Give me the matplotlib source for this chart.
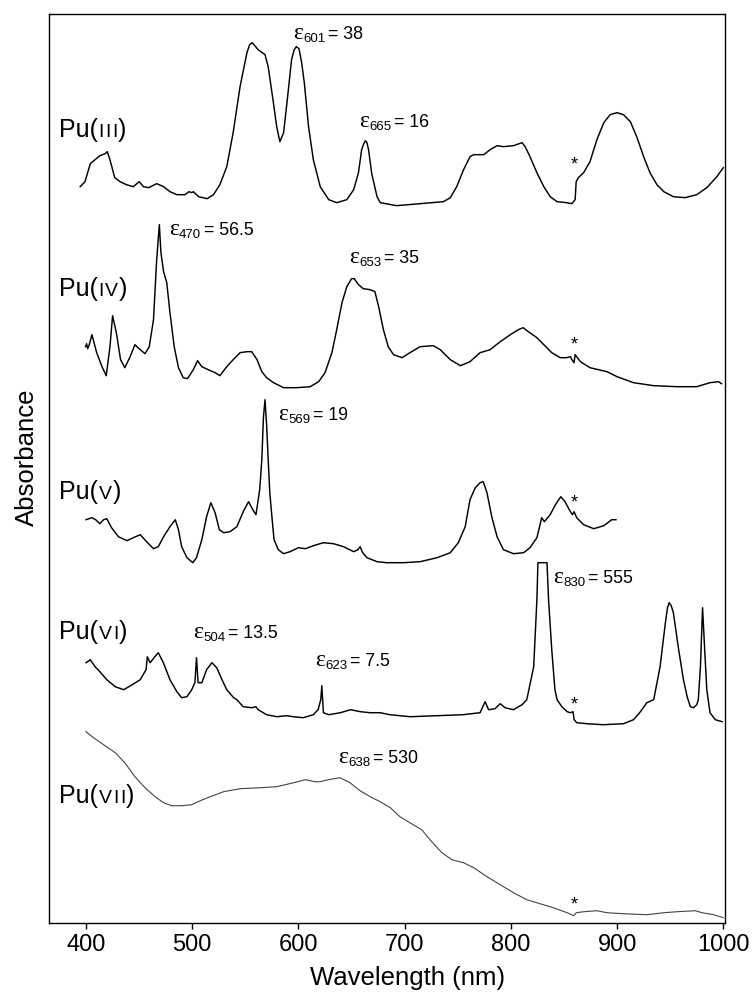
import matplotlib
matplotlib.use("Agg")
import matplotlib.pyplot as plt

plt.rcParams["font.family"] = ["Liberation Sans", "DejaVu Sans"]

# ---------------------------------------------------------------------------
# Spectra (stacked, arbitrary absorbance units)
# ---------------------------------------------------------------------------
pu3_wl = [394.5, 399, 404, 408.5, 413, 418, 420, 422.5, 427, 432,
          438, 444.5, 450, 454, 459, 466.5, 473, 479, 485.5, 493,
          497, 499.5, 501, 506, 514, 520, 526, 532.5, 538.5, 545,
          551.5, 554, 556.5, 562, 568.5, 571.5, 576, 579.5, 582.5, 586,
          589.5, 593.5, 596, 598, 600.5, 603, 605.5, 609.5, 614, 620.5,
          628.5, 636, 645.5, 652, 656.5, 659.5, 661.5, 663, 664.5, 666,
          669, 674, 677, 692.5, 714.5, 736.5, 743, 749, 755.5, 761.5,
          765, 774.5, 780.5, 787, 793, 802.5, 810.5, 813.5, 818, 824.5,
          831, 837, 843.5, 852.5, 857.5, 860.5, 861.5, 863.5, 868.5, 874.5,
          881, 887.5, 893.5, 900, 906, 912.5, 918.5, 925, 931, 937.5,
          944, 953, 964, 975, 984.5, 994, 1000]
pu3_abs = [736, 741, 759, 763, 767, 769, 771, 763, 745, 741,
           738, 736, 741, 736, 735, 739, 736, 731, 728, 728,
           731, 730, 731, 726, 724, 728, 738, 756, 790, 836,
           870, 878, 880, 873, 868, 856, 823, 796, 781, 790,
           823, 863, 873, 876, 874, 860, 840, 796, 763, 736,
           723, 720, 723, 733, 750, 773, 779, 782, 780, 773,
           749, 726, 720, 717, 719, 721, 725, 736, 753, 766,
           768, 768, 773, 777, 776, 777, 780, 776, 766, 750,
           736, 726, 721, 720, 719, 723, 741, 745, 750, 761,
           783, 800, 808, 810, 808, 801, 786, 766, 750, 738,
           731, 726, 725, 728, 735, 746, 755]

pu4_wl = [399.5, 400.5, 401.5, 403, 405.5, 410, 415, 419, 422.5, 425,
          428.5, 432.5, 436.5, 441.5, 446, 451, 455.5, 459.5, 463.5, 466.5,
          469, 470.5, 473, 476, 479, 483, 487, 491.5, 495.5, 501,
          505, 509, 515, 521.5, 526, 532.5, 538.5, 545, 551.5, 556,
          561, 565.5, 570, 576.5, 586, 598.5, 611, 619, 625, 631.5,
          636, 641, 645.5, 650, 652.5, 656.5, 661, 667.5, 672, 675.5,
          680, 684.5, 689.5, 697.5, 705, 714.5, 727, 733.5, 743, 752.5,
          761.5, 771, 780.5, 790, 799.5, 807, 811.5, 816.5, 824.5, 831,
          838.5, 846.5, 852.5, 856, 857.5, 859.5, 860.5, 865.5, 874.5, 890.5,
          900, 915.5, 934.5, 956.5, 975, 987.5, 995.5, 998.5]
pu4_abs = [576, 579, 574, 578, 588, 570, 556, 547, 576, 607,
           590, 563, 555, 566, 578, 573, 569, 576, 603, 663,
           698, 670, 651, 640, 610, 576, 555, 545, 544, 553,
           562, 556, 553, 550, 547, 556, 563, 570, 571, 571,
           563, 551, 545, 540, 535, 535, 536, 541, 550, 570,
           593, 620, 636, 644, 644, 638, 634, 633, 631, 616,
           593, 576, 568, 565, 570, 576, 577, 573, 563, 557,
           561, 570, 573, 581, 588, 593, 595, 591, 585, 578,
           570, 565, 565, 566, 563, 560, 568, 561, 555, 551,
           546, 540, 537, 536, 536, 540, 541, 539]

pu5_wl = [400, 405.5, 409, 413, 416.5, 419.5, 424, 430.5, 438.5, 444.5,
          451, 457, 463.5, 468, 473, 479, 484, 487, 490, 495,
          500.5, 504, 509, 513.5, 517.5, 521.5, 525.5, 529.5, 535.5, 542,
          548, 553, 557, 560, 563.5, 565.5, 567, 568.5, 570, 571.5,
          573, 575, 577, 581, 586, 592, 600, 606.5, 614, 623.5,
          633, 642.5, 652, 656, 658, 660.5, 664.5, 674, 683, 699,
          714.5, 730.5, 743, 750.5, 757, 761.5, 766.5, 771, 774, 777.5,
          782, 787, 793, 802.5, 812, 818, 824.5, 827.5, 829, 831.5,
          837, 842, 847, 851, 855, 858, 859.5, 862, 868.5, 878,
          887.5, 895, 899]
pu5_abs = [403, 405, 403, 399, 403, 404, 395, 386, 382, 385,
           388, 381, 374, 376, 386, 396, 403, 393, 376, 365,
           360, 365, 383, 406, 420, 410, 393, 390, 391, 396,
           411, 421, 413, 408, 433, 463, 505, 523, 498, 463,
           430, 406, 383, 373, 369, 371, 375, 374, 377, 380,
           379, 376, 371, 373, 376, 370, 365, 361, 360, 360,
           361, 365, 370, 380, 396, 423, 435, 440, 441, 430,
           406, 386, 373, 369, 370, 375, 385, 398, 405, 401,
           408, 418, 426, 421, 413, 408, 411, 405, 398, 394,
           397, 403, 403]

pu6_wl = [400, 404, 408.5, 413, 419.5, 427.5, 435.5, 443.5, 451, 456.5,
          457.7, 460.3, 464, 468, 472.8, 479, 485.5, 490, 495, 499.5,
          502.5, 504, 505.5, 509, 513.5, 518.5, 523, 528, 532.5, 539,
          542, 548, 556, 560, 562, 570, 579.5, 589, 595, 604.5,
          614, 618.5, 621, 622, 623.5, 628.5, 639.5, 649, 658.5, 667.5,
          677, 686, 705, 730, 755, 771, 775.8, 779, 785, 790,
          794.5, 802.5, 810.5, 815, 821.5, 824.5, 825.5, 834, 835.5, 838.5,
          841.5, 843.5, 848, 853, 856, 858.5, 859.6, 862, 871.5, 887,
          906, 915.5, 922, 928, 934.5, 940.5, 945.5, 947.5, 949, 951,
          953, 958, 962.5, 966, 969, 972, 975, 976.5, 978.5, 980.5,
          982.5, 984.5, 987.5, 992.5, 999]
pu6_abs = [260, 263, 256, 251, 243, 236, 233, 238, 243, 253,
           266, 260, 265, 270, 260, 243, 231, 225, 226, 233,
           240, 265, 240, 240, 253, 260, 255, 243, 233, 225,
           223, 216, 215, 216, 213, 208, 206, 207, 206, 205,
           208, 213, 223, 237, 210, 208, 210, 213, 211, 210,
           210, 208, 206, 207, 208, 210, 221, 213, 214, 219,
           215, 213, 218, 223, 256, 323, 360, 360, 323, 273,
           233, 223, 216, 211, 210, 211, 203, 200, 199, 198,
           199, 203, 211, 220, 223, 256, 300, 315, 320, 317,
           310, 273, 243, 226, 216, 215, 218, 223, 256, 315,
           273, 233, 210, 203, 201]

pu7_wl = [400, 407, 416.5, 427.5, 436.5, 446, 455.5, 465, 473, 480.5,
          490, 499.5, 507.5, 517, 529.5, 545, 564, 579.5, 595.5, 606.5,
          615.5, 620.5, 628, 639, 648.5, 658, 667.5, 677, 686.5, 695.5,
          705, 716, 725.5, 735, 744.5, 755.5, 765, 777.5, 790, 802.5,
          815, 827.5, 840, 853, 859, 861.5, 868.5, 881, 890.5, 906,
          928, 944, 956.5, 973.5, 980, 991, 1000]
pu7_abs = [191, 185, 178, 170, 160, 146, 135, 126, 120, 117,
           117, 118, 122, 126, 131, 134, 135, 136, 140, 143,
           141, 141, 143, 145, 140, 132, 126, 121, 115, 106,
           100, 93, 81, 70, 63, 60, 55, 46, 38, 30,
           23, 19, 15, 10, 7, 10, 11, 12, 10, 9,
           8, 10, 11, 12, 10, 8, 5]

# state labels: numeral, baseline
state_numerals = ["III", "IV", "V", "VI", "VII"]
state_label_y = [786, 627, 424, 284, 120]
state_label_x = 374.6

# molar absorptivity annotations: wavelength, value, text position
eps_wl = ["601", "665", "470", "653", "569", "830", "504", "623", "638"]
eps_val = ["38", "16", "56.5", "35", "19", "555", "13.5", "7.5", "530"]
eps_x = [594.9, 657.0, 478.1, 647.6, 580.8, 839.6, 500.7, 615.6, 637.2]
eps_y = [884, 796, 688, 660, 503, 340, 285, 257, 160]

# detector change artefact markers
star_x = 860
star_y = [764, 584, 426, 224, 24]

# ---------------------------------------------------------------------------
# Figure
# ---------------------------------------------------------------------------
fig = plt.figure(figsize=(7.54, 9.97), dpi=100)
ax = fig.add_axes([0.0654, 0.0745, 0.8961, 0.9118])

spectra = [(pu3_wl, pu3_abs), (pu4_wl, pu4_abs), (pu5_wl, pu5_abs),
           (pu6_wl, pu6_abs)]
for wl, ab in spectra:
    ax.plot(wl, ab, color="black", lw=1.05, solid_joinstyle="round")
ax.plot(pu7_wl, pu7_abs, color="#444444", lw=0.8, solid_joinstyle="round")

ax.set_xlim(365.4, 1001.6)
ax.set_ylim(0, 909)
ax.set_xticks([400, 500, 600, 700, 800, 900, 1000])
ax.set_yticks([])
ax.tick_params(axis="x", direction="out", length=4, width=1.0,
               labelsize=17, pad=4)
for sp in ax.spines.values():
    sp.set_linewidth(1.0)
ax.set_xlabel("Wavelength (nm)", fontsize=18.5)
ax.set_ylabel("Absorbance", fontsize=18.5)
ax.xaxis.set_label_coords(0.530, -0.0473)
ax.yaxis.set_label_coords(-0.0157, 0.512)

renderer = fig.canvas.get_renderer()


def chain(x, y, pieces):
    # pieces: (text, size, rise_pt, family, gap_pt)
    dx = 0.0
    for text, size, rise, family, gap in pieces:
        dx += gap
        t = ax.annotate(text, (x, y), xytext=(dx, rise),
                        textcoords="offset points", fontsize=size,
                        family=family, ha="left", va="baseline",
                        annotation_clip=False)
        dx += t.get_window_extent(renderer).width * 72 / fig.dpi


SANS = ["Liberation Sans", "DejaVu Sans"]
SERIF = ["Liberation Serif", "DejaVu Serif"]

for num, y in zip(state_numerals, state_label_y):
    pieces = [("Pu(", 18, 0, SANS, 0)]
    for k, ch in enumerate(num):
        pieces.append((ch, 14, 0, SANS, 0.4 if k == 0 else 1.0))
    pieces.append((")", 18, 0, SANS, 0.5))
    chain(state_label_x, y, pieces)

for w, v, x, y in zip(eps_wl, eps_val, eps_x, eps_y):
    chain(x, y, [("\u03b5", 17, 0, SERIF, 0),
                 (w, 9.5, -2.2, SANS, 0.2),
                 ("= " + v, 12.8, 0, SANS, 2.0)])

for y in star_y:
    ax.annotate("*", (star_x, y), xytext=(0, -7.5), textcoords="offset points",
                fontsize=13, ha="center", va="baseline")

fig.savefig("out.png", dpi=100)
